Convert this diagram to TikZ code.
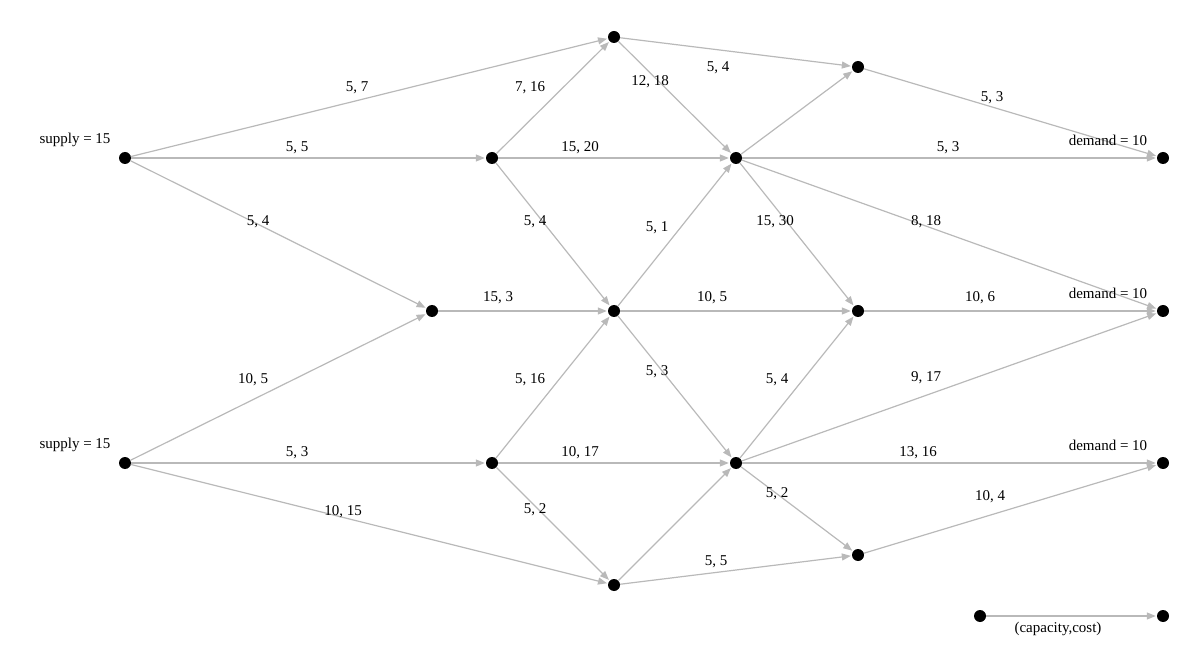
\documentclass[tikz,border=0pt]{standalone}
\usepackage{fontspec}
\setmainfont{Liberation Serif}
\usetikzlibrary{arrows.meta}
\begin{document}
\begin{tikzpicture}[x=1pt,y=-1pt,
  vtx/.style={circle,fill=black,inner sep=0pt,minimum size=12pt},
  arc/.style={draw={rgb,255:red,185;green,185;blue,185},line width=1.2pt,-{Triangle[length=9pt,width=7pt]},shorten >=1pt},
  lbl/.style={font=\fontsize{15}{15}\selectfont,inner sep=0pt},
  every node/.append style={font=\fontsize{15}{15}\selectfont}]
\useasboundingbox (0,0) rectangle (1200,668);
\foreach \n/\x/\y in {s1/125/158,s2/125/463,a/492/158,b/432/311,c/492/463,d/614/37,e/614/311,f/614/585,g/736/158,h/736/463,i/858/67,j/858/311,k/858/555,t1/1163/158,t2/1163/311,t3/1163/463,l1/980/616,l2/1163/616}
  \node[vtx] (\n) at (\x,\y) {};
\foreach \u/\v in {s1/d,s1/a,s1/b,s2/b,s2/c,s2/f,a/d,a/g,a/e,b/e,c/e,c/h,c/f,d/i,d/g,e/g,e/j,e/h,f/h,f/k,g/i,g/t1,g/j,g/t2,h/j,h/t2,h/t3,h/k,i/t1,j/t2,k/t3,l1/l2}
  \draw[arc] (\u) -- (\v);
\foreach \t/\x/\y in {{5, 7}/357/88,{5, 5}/297/148,{5, 4}/258/222,{10, 5}/253/380,{5, 3}/297/453,{10, 15}/343/512,{7, 16}/530/88,{15, 20}/580/148,{5, 4}/535/222,{15, 3}/498/298,{5, 16}/530/380,{10, 17}/580/453,{5, 2}/535/510,{5, 4}/718/68,{12, 18}/650/82,{5, 1}/657/228,{10, 5}/712/298,{5, 3}/657/372,{5, 5}/716/562,{5, 3}/948/148,{15, 30}/775/222,{8, 18}/926/222,{5, 4}/777/380,{9, 17}/926/378,{13, 16}/918/453,{5, 2}/777/494,{5, 3}/992/98,{10, 6}/980/298,{10, 4}/990/497,{(capacity,cost)}/1058/629}
  \node[lbl] (lb) at (\x,\y) {\t};
\node[lbl] (sp1) at (75,140) {supply = 15};
\node[lbl] (sp2) at (75,445) {supply = 15};
\node[lbl] (dm1) at (1108,140) {demand = 10};
\node[lbl] (dm2) at (1108,293) {demand = 10};
\node[lbl] (dm3) at (1108,445) {demand = 10};
\end{tikzpicture}
\end{document}
